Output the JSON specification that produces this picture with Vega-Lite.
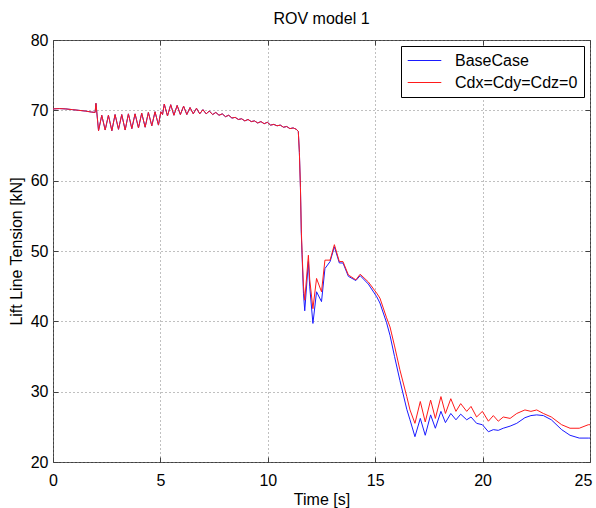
{
  "$schema": "https://vega.github.io/schema/vega-lite/v6.json",
  "autosize": {"type": "none"},
  "width": 537,
  "height": 422,
  "padding": {"left": 53, "top": 40, "right": 6, "bottom": 46},
  "title": {"text": "ROV model 1", "fontSize": 16, "font": "Liberation Sans", "fontWeight": "normal", "offset": 5, "color": "#000"},
  "config": {
    "font": "Liberation Sans",
    "view": {"stroke": "#404040", "strokeWidth": 1},
    "axis": {
      "domain": false,
      "tickColor": "#404040",
      "tickSize": -5,
      "labelFontSize": 16,
      "labelColor": "#000",
      "labelFlush": false,
      "labelBound": false,
      "titleFontSize": 16,
      "titleFontWeight": "normal",
      "titleColor": "#000",
      "gridColor": "#808080",
      "gridDash": [1, 3],
      "gridOpacity": 1
    }
  },
  "data": {"values": [
    {"t": 0, "base": 70.2, "zero": 70.2},
    {"t": 0.3, "base": 70.25, "zero": 70.25},
    {"t": 0.6, "base": 70.2, "zero": 70.2},
    {"t": 0.9, "base": 70.1, "zero": 70.1},
    {"t": 1.2, "base": 70.0, "zero": 70.0},
    {"t": 1.5, "base": 69.9, "zero": 69.9},
    {"t": 1.8, "base": 69.75, "zero": 69.75},
    {"t": 1.96, "base": 69.7, "zero": 69.7},
    {"t": 2.0, "base": 71.0, "zero": 71.0},
    {"t": 2.12, "base": 67.1, "zero": 67.1},
    {"t": 2.27, "base": 69.3, "zero": 69.3},
    {"t": 2.43, "base": 67.2, "zero": 67.2},
    {"t": 2.58, "base": 69.3, "zero": 69.3},
    {"t": 2.74, "base": 67.1, "zero": 67.1},
    {"t": 2.89, "base": 69.4, "zero": 69.4},
    {"t": 3.05, "base": 67.3, "zero": 67.3},
    {"t": 3.2, "base": 69.4, "zero": 69.4},
    {"t": 3.36, "base": 67.2, "zero": 67.2},
    {"t": 3.51, "base": 69.5, "zero": 69.5},
    {"t": 3.67, "base": 67.4, "zero": 67.4},
    {"t": 3.82, "base": 69.5, "zero": 69.5},
    {"t": 3.98, "base": 67.5, "zero": 67.5},
    {"t": 4.13, "base": 69.6, "zero": 69.6},
    {"t": 4.29, "base": 67.6, "zero": 67.6},
    {"t": 4.44, "base": 69.7, "zero": 69.7},
    {"t": 4.6, "base": 67.8, "zero": 67.8},
    {"t": 4.75, "base": 69.8, "zero": 69.8},
    {"t": 4.91, "base": 67.9, "zero": 67.9},
    {"t": 5.02, "base": 69.8, "zero": 69.8},
    {"t": 5.1, "base": 69.4, "zero": 69.4},
    {"t": 5.18, "base": 70.9, "zero": 70.9},
    {"t": 5.33, "base": 69.2, "zero": 69.2},
    {"t": 5.48, "base": 70.8, "zero": 70.8},
    {"t": 5.63, "base": 69.3, "zero": 69.3},
    {"t": 5.78, "base": 70.7, "zero": 70.7},
    {"t": 5.93, "base": 69.4, "zero": 69.4},
    {"t": 6.08, "base": 70.6, "zero": 70.6},
    {"t": 6.23, "base": 69.4, "zero": 69.4},
    {"t": 6.38, "base": 70.4, "zero": 70.4},
    {"t": 6.53, "base": 69.5, "zero": 69.5},
    {"t": 6.68, "base": 70.3, "zero": 70.3},
    {"t": 6.83, "base": 69.5, "zero": 69.5},
    {"t": 6.98, "base": 70.1, "zero": 70.1},
    {"t": 7.13, "base": 69.5, "zero": 69.5},
    {"t": 7.28, "base": 69.9, "zero": 69.9},
    {"t": 7.43, "base": 69.4, "zero": 69.4},
    {"t": 7.58, "base": 69.7, "zero": 69.7},
    {"t": 7.73, "base": 69.3, "zero": 69.3},
    {"t": 7.88, "base": 69.5, "zero": 69.5},
    {"t": 8.03, "base": 69.1, "zero": 69.1},
    {"t": 8.18, "base": 69.3, "zero": 69.3},
    {"t": 8.33, "base": 68.9, "zero": 68.9},
    {"t": 8.48, "base": 69.0, "zero": 69.0},
    {"t": 8.63, "base": 68.7, "zero": 68.7},
    {"t": 8.78, "base": 68.8, "zero": 68.8},
    {"t": 8.93, "base": 68.5, "zero": 68.5},
    {"t": 9.08, "base": 68.7, "zero": 68.7},
    {"t": 9.23, "base": 68.4, "zero": 68.4},
    {"t": 9.38, "base": 68.5, "zero": 68.5},
    {"t": 9.53, "base": 68.2, "zero": 68.2},
    {"t": 9.68, "base": 68.4, "zero": 68.4},
    {"t": 9.83, "base": 68.1, "zero": 68.1},
    {"t": 9.98, "base": 68.3, "zero": 68.3},
    {"t": 10.13, "base": 67.9, "zero": 67.9},
    {"t": 10.28, "base": 68.0, "zero": 68.0},
    {"t": 10.43, "base": 67.8, "zero": 67.8},
    {"t": 10.58, "base": 67.9, "zero": 67.9},
    {"t": 10.73, "base": 67.6, "zero": 67.6},
    {"t": 10.88, "base": 67.7, "zero": 67.7},
    {"t": 11.03, "base": 67.4, "zero": 67.4},
    {"t": 11.18, "base": 67.5, "zero": 67.5},
    {"t": 11.33, "base": 67.3, "zero": 67.3},
    {"t": 11.42, "base": 67.0, "zero": 67.0},
    {"t": 11.47, "base": 64.0, "zero": 64.0},
    {"t": 11.52, "base": 59.0, "zero": 59.0},
    {"t": 11.56, "base": 52.5, "zero": 53.0},
    {"t": 11.6, "base": 49.0, "zero": 49.5},
    {"t": 11.66, "base": 44.0, "zero": 45.0},
    {"t": 11.72, "base": 41.5, "zero": 43.0},
    {"t": 11.89, "base": 48.5, "zero": 49.4},
    {"t": 11.95, "base": 45.0, "zero": 46.0},
    {"t": 12.1, "base": 39.7, "zero": 41.8},
    {"t": 12.27, "base": 44.2, "zero": 46.1},
    {"t": 12.5, "base": 42.8, "zero": 44.2},
    {"t": 12.66, "base": 47.5, "zero": 48.7},
    {"t": 12.9, "base": 48.5, "zero": 48.7},
    {"t": 13.1, "base": 50.6, "zero": 50.9},
    {"t": 13.33, "base": 48.3, "zero": 48.5},
    {"t": 13.5, "base": 48.3, "zero": 48.5},
    {"t": 13.75, "base": 46.4, "zero": 46.6},
    {"t": 14.1, "base": 45.8, "zero": 45.9},
    {"t": 14.3, "base": 46.5, "zero": 46.7},
    {"t": 14.68, "base": 45.3, "zero": 45.6},
    {"t": 15.07, "base": 43.5, "zero": 44.0},
    {"t": 15.22, "base": 42.6, "zero": 43.3},
    {"t": 15.53, "base": 39.8, "zero": 40.5},
    {"t": 15.69, "base": 38.0, "zero": 39.2},
    {"t": 15.9, "base": 35.0, "zero": 36.5},
    {"t": 16.15, "base": 31.6, "zero": 33.1},
    {"t": 16.47, "base": 27.5, "zero": 29.3},
    {"t": 16.62, "base": 26.0, "zero": 27.4},
    {"t": 16.85, "base": 23.6, "zero": 25.5},
    {"t": 17.1, "base": 26.2, "zero": 28.6},
    {"t": 17.33, "base": 23.8, "zero": 25.7},
    {"t": 17.58, "base": 26.7, "zero": 28.8},
    {"t": 17.8, "base": 24.8, "zero": 26.2},
    {"t": 18.06, "base": 27.2, "zero": 29.3},
    {"t": 18.27, "base": 25.6, "zero": 26.9},
    {"t": 18.52, "base": 26.9, "zero": 29.0},
    {"t": 18.76, "base": 26.0, "zero": 27.2},
    {"t": 18.98, "base": 26.8, "zero": 28.3},
    {"t": 19.26, "base": 26.0, "zero": 27.2},
    {"t": 19.46, "base": 26.4, "zero": 27.9},
    {"t": 19.72, "base": 25.5, "zero": 26.4},
    {"t": 19.99, "base": 25.3, "zero": 27.2},
    {"t": 20.27, "base": 24.3, "zero": 25.8},
    {"t": 20.5, "base": 24.6, "zero": 26.6},
    {"t": 20.73, "base": 24.5, "zero": 25.8},
    {"t": 20.96, "base": 24.8, "zero": 26.4},
    {"t": 21.28, "base": 25.1, "zero": 26.2},
    {"t": 21.59, "base": 25.5, "zero": 26.9},
    {"t": 21.97, "base": 26.3, "zero": 27.4},
    {"t": 22.25, "base": 26.6, "zero": 27.2},
    {"t": 22.52, "base": 26.7, "zero": 27.4},
    {"t": 22.83, "base": 26.6, "zero": 26.9},
    {"t": 23.2, "base": 26.0, "zero": 26.4},
    {"t": 23.68, "base": 24.6, "zero": 25.3},
    {"t": 24.07, "base": 23.8, "zero": 24.8},
    {"t": 24.5, "base": 23.4, "zero": 24.8},
    {"t": 24.92, "base": 23.4, "zero": 25.3},
    {"t": 25.0, "base": 23.4, "zero": 25.3}
  ]},
  "transform": [{"fold": ["base", "zero"], "as": ["series", "value"]}],
  "layer": [
    {
      "mark": {"type": "line", "strokeWidth": 1},
      "encoding": {
        "x": {"field": "t", "type": "quantitative", "scale": {"domain": [0, 25], "nice": false},
              "axis": {"title": "Time [s]", "values": [0, 5, 10, 15, 20, 25], "labelPadding": 15, "titlePadding": 3,
                       "labelOffset": {"expr": "datum.value == 25 ? -7 : 0"}}},
        "y": {"field": "value", "type": "quantitative", "scale": {"domain": [20, 80], "nice": false, "zero": false},
              "axis": {"title": "Lift Line Tension [kN]", "values": [20, 30, 40, 50, 60, 70, 80], "labelPadding": 10, "titlePadding": 6}},
        "color": {"field": "series", "type": "nominal",
                  "scale": {"domain": ["base", "zero"], "range": ["#1a1aff", "#ff1a1a"]},
                  "legend": {"title": null, "orient": "top-right", "offset": 6,
                             "strokeColor": "#000", "fillColor": "#fff", "padding": 6,
                             "symbolType": "M-2.1,0H2.1", "symbolSize": 256, "symbolStrokeWidth": 1,
                             "symbolOffset": 9, "labelOffset": 22,
                             "labelFontSize": 16, "labelColor": "#000", "rowPadding": 5,
                             "labelExpr": "datum.value == 'base' ? 'BaseCase' : 'Cdx=Cdy=Cdz=0'"}}
      }
    },
    {
      "mark": {"type": "line", "strokeOpacity": 0},
      "encoding": {
        "x": {"field": "t", "type": "quantitative", "axis": {"orient": "top", "labels": false, "title": null, "grid": false, "values": [0, 5, 10, 15, 20, 25]}},
        "y": {"field": "value", "type": "quantitative", "axis": {"orient": "right", "labels": false, "title": null, "grid": false, "values": [20, 30, 40, 50, 60, 70, 80]}},
        "detail": {"field": "series"}
      }
    }
  ],
  "resolve": {"axis": {"x": "independent", "y": "independent"}}
}
